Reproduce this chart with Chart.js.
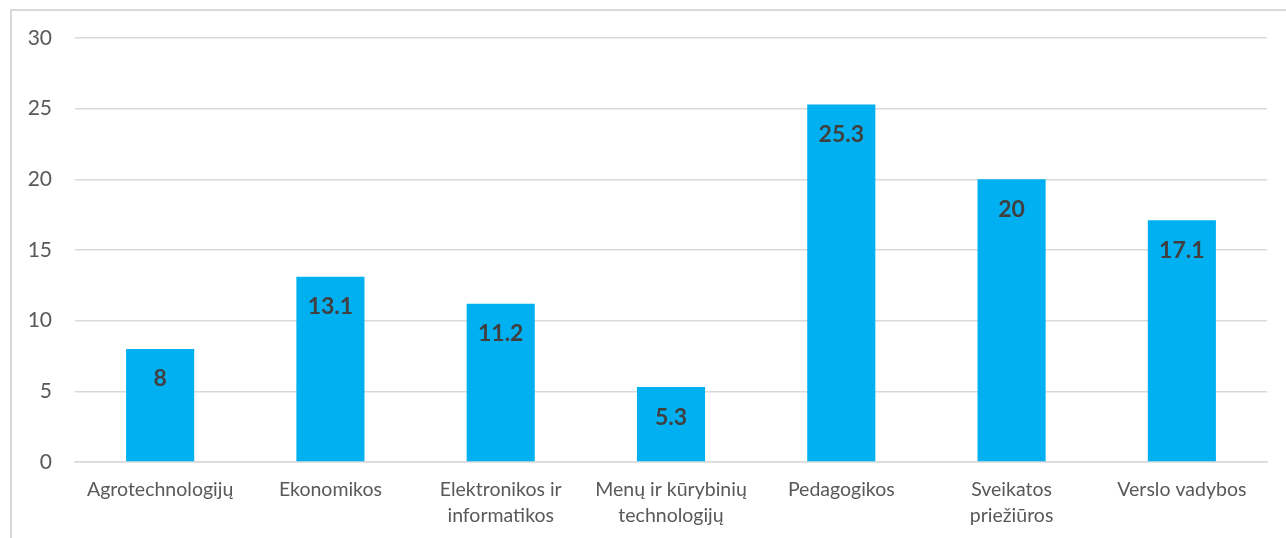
<!DOCTYPE html>
<html><head><meta charset="utf-8">
<script src="https://cdn.jsdelivr.net/npm/chart.js@4"></script>
<style>
html,body{margin:0;padding:0;background:#fff;}
#wrap{position:absolute;left:0;top:0;width:1286px;height:538px;}
#frame{position:absolute;left:10px;top:9px;width:1290px;height:540px;border-left:2px solid #d9d9d9;border-top:2px solid #d9d9d9;box-sizing:border-box;}
canvas{position:absolute;left:0;top:0;}
</style></head>
<body>
<div id="wrap"><div id="frame"></div><canvas id="c" width="1286" height="538"></canvas></div>
<script>
const categories = ["Agrotechnologijų", "Ekonomikos", ["Elektronikos ir","informatikos"], ["Menų ir kūrybinių","technologijų"], "Pedagogikos", ["Sveikatos","priežiūros"], "Verslo vadybos"];
const values = [8, 13.1, 11.2, 5.3, 25.3, 20, 17.1];
const yTicks = [0, 5, 10, 15, 20, 25, 30];

const FONT = "Lato, 'Open Sans', sans-serif";

const labelPlugin = {
  id: 'barLabels',
  afterDatasetsDraw(chart) {
    const ctx = chart.ctx;
    const meta = chart.getDatasetMeta(0);
    ctx.save();
    ctx.font = "bold 23px " + FONT;
    ctx.fillStyle = "#404040";
    ctx.textAlign = "center";
    ctx.textBaseline = "middle";
    meta.data.forEach((bar, i) => {
      ctx.fillText(String(values[i]), bar.x, bar.y + 30);
    });
    ctx.restore();
  }
};

new Chart(document.getElementById('c'), {
  type: 'bar',
  data: {
    labels: categories,
    datasets: [{
      data: values,
      backgroundColor: '#00B0F0',
      borderWidth: 0,
      barPercentage: 0.4,
      categoryPercentage: 1.0
    }]
  },
  options: {
    responsive: false,
    animation: false,
    devicePixelRatio: 1,
    layout: { padding: { left: 0, right: 19, top: 38, bottom: 0 } },
    plugins: { legend: { display: false }, tooltip: { enabled: false } },
    scales: {
      x: {
        grid: { display: false, drawTicks: false },
        border: { display: true, color: '#d9d9d9', width: 1.5 },
        ticks: {
          color: '#595959',
          font: { family: FONT, size: 19.5, lineHeight: 1.33 },
          padding: 15,
          maxRotation: 0,
          autoSkip: false
        },
        afterFit(scale) { scale.height = 76; }
      },
      y: {
        min: 0, max: 30,
        afterBuildTicks(scale) { scale.ticks = yTicks.map(v => ({ value: v })); },
        grid: { color: '#d9d9d9', lineWidth: 1.5, drawTicks: false },
        border: { display: false },
        ticks: {
          color: '#595959',
          font: { family: FONT, size: 21 },
          padding: 23
        },
        afterFit(scale) { scale.width = 75; }
      }
    }
  },
  plugins: [labelPlugin]
});
</script>
</body></html>
